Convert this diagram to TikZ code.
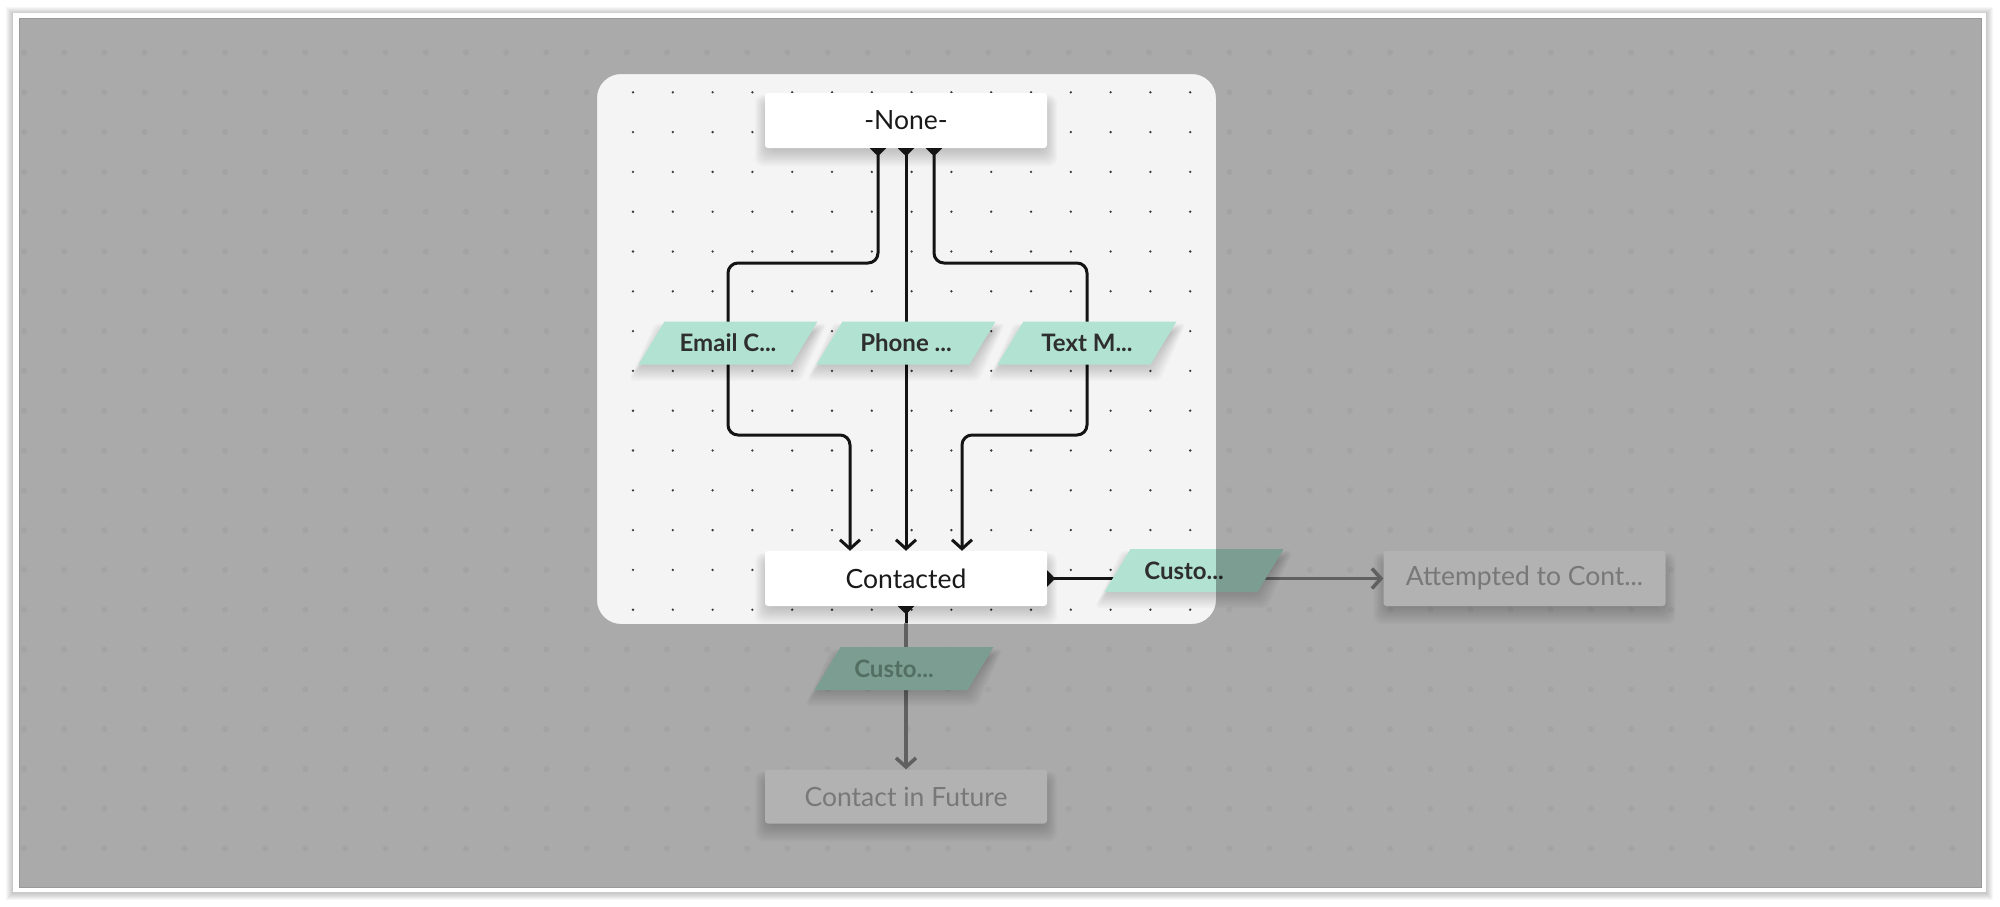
\documentclass[tikz,border=0pt]{standalone}
\usepackage{fontspec}
\setmainfont{Lato}
\usetikzlibrary{arrows.meta}
\definecolor{canvas}{HTML}{F4F4F4}
\definecolor{mint}{HTML}{B2E3D2}
\definecolor{dotc}{HTML}{3A3A3A}
\definecolor{outdot}{HTML}{EAEAEA}
\definecolor{outline}{HTML}{8A8A8A}
\definecolor{outtext}{HTML}{ADADAD}
\definecolor{outmint}{HTML}{789E8D}
\definecolor{labeltext}{HTML}{2E2E2E}
% soft shadow under a box given by its corners
\newcommand{\softbox}[4]{%
  \foreach \k in {1,...,10}{%
    \fill[black, opacity=0.022, rounded corners=8pt]
      ({#1+5-1.5*\k},{#2+12-1.0*\k}) rectangle ({#3-5+1.5*\k},{#4-2+2.0*\k});
  }%
}
% parallelogram label: name, cx, cy, text, fill, text colour, text x offset
\newcommand{\paragram}[7]{%
  \foreach \k in {1,...,9}{%
    \fill[black, opacity=0.022, rounded corners=4pt]
      ({#2-76.5+13-1.5*\k+4},{#3-21.5+11-\k}) -- ({#2+76.5+13+1.5*\k-4},{#3-21.5+11-\k})
      -- ({#2+76.5-13+1.5*\k-4},{#3+21.5-2+2*\k}) -- ({#2-76.5-13-1.5*\k+4},{#3+21.5-2+2*\k}) -- cycle;
  }%
  \fill[#5]
    ({#2-76.5+13},{#3-21.5}) -- ({#2+76.5+13},{#3-21.5}) -- ({#2+76.5-13},{#3+21.5}) -- ({#2-76.5-13},{#3+21.5}) -- cycle;
  \node[lbl, text=#6] (#1) at ({#2+#7},#3) {#4};
}
\begin{document}
\begin{tikzpicture}[x=1pt,y=-1pt,
  box/.style={fill=white, rounded corners=3pt, minimum width=282pt, minimum height=55pt, inner sep=0pt,
    font=\fontsize{26.5}{31}\selectfont, text=black!90},
  lbl/.style={inner sep=0pt, font=\fontsize{24}{28}\selectfont\bfseries},
  conn/.style={line width=3pt, draw=black!92, rounded corners=10pt},
  tailtip/.style={{Triangle[reversed,width=16pt,length=8pt]}-},
  bothtip/.style={{Triangle[reversed,width=16pt,length=8pt]}-{Straight Barb[length=9pt,width=20pt]}},
  outconn/.style={line width=3.5pt, draw=outline}
]
\useasboundingbox (0,0) rectangle (2000,906);
% page and frame
\fill[white] (0,0) rectangle (2000,906);
\foreach \k in {1,...,7}{%
  \fill[black, opacity=0.03] ({13-\k},{13-\k+1}) rectangle ({1986+\k},{892+\k+1});
}
\fill[white] (13,13) rectangle (1986,892);
\fill[canvas] (19,18) rectangle (1981,887);
% blurred outer dot grid
\foreach \i in {0,...,48} \foreach \j in {0,...,20}
  \fill[outdot] ({24+40.18*\i},{52.5+39.8*\j}) circle (3pt);
% spotlight panel
\fill[canvas] [rounded corners=24pt] (597,74) rectangle (1216,624);
\foreach \i in {0,...,14} \foreach \j in {0,...,13}
  \fill[dotc] ({633+39.8*\i},{92.3+39.8*\j}) circle (1.3pt);
% box shadows
\softbox{765}{93}{1047}{148}
\softbox{765}{551}{1047}{606}
\softbox{1383.5}{551}{1665.5}{606}
\softbox{765}{769.5}{1047}{823.5}
% boxes
\node[box] (none) at (906,120.5) {-None-};
\node[box] (contacted) at (906,578.5) {Contacted};
\node[box, text=outtext] (attempted) at (1524.5,578.5) {Attempted to Cont...};
\node[box, text=outtext, minimum height=54pt] (future) at (906,796.5) {Contact in Future};
% panel edge points
\coordinate (edgeR) at (1216,578.5);
\coordinate (edgeB) at (906,623);
% connectors None -> Contacted
\draw[conn, bothtip] ([xshift=-28pt]none.south) -- (878,263) -- (728,263) -- (728,435) -- (850,435) -- ([xshift=-56pt]contacted.north);
\draw[conn, bothtip] (none.south) -- (contacted.north);
\draw[conn, bothtip] ([xshift=28pt]none.south) -- (934,263) -- (1087,263) -- (1087,435) -- (962,435) -- ([xshift=56pt]contacted.north);
% connectors out of Contacted
\draw[conn, tailtip] (contacted.east) -- (edgeR);
\draw[outconn, -{Straight Barb[length=9pt,width=20pt]}] (edgeR) -- (attempted.west);
\draw[conn, tailtip] (contacted.south) -- (edgeB);
\draw[outconn, -{Straight Barb[length=9pt,width=20pt]}] (edgeB) -- (future.north);
% labels
\paragram{pe}{728}{343}{Email C...}{mint}{labeltext}{0}
\paragram{pp}{906}{343}{Phone ...}{mint}{labeltext}{0}
\paragram{pt}{1087}{343}{Text M...}{mint}{labeltext}{0}
\paragram{pr}{1194}{570.5}{Custo...}{mint}{labeltext}{-10}
\paragram{pb}{904}{668.5}{Custo...}{mint}{outmint}{-10}
% dimming overlay outside the spotlight
\fill[black, fill opacity=0.3, even odd rule] (19,18) rectangle (1981,887) [rounded corners=24pt] (597,74) rectangle (1216,624);
\draw[black!40, line width=0.8pt] (19,18) rectangle (1981,887);
\end{tikzpicture}
\end{document}
